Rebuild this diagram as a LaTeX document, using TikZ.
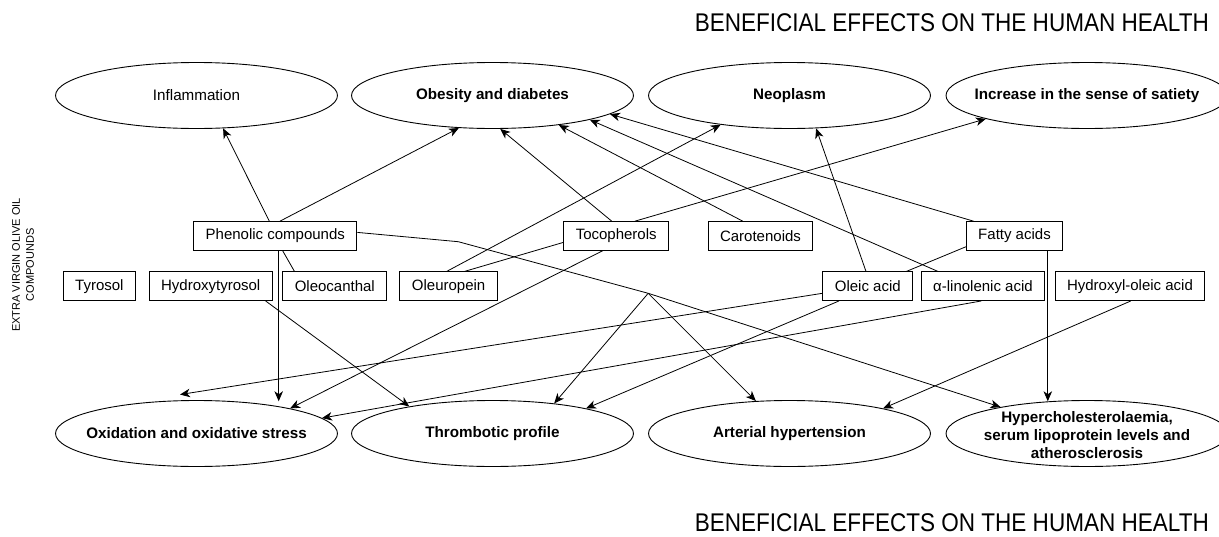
\documentclass[tikz,border=0pt]{standalone}
\usepackage{fontspec}
\setmainfont{Liberation Sans}
\newfontfamily\headfont{Liberation Sans}[FakeStretch=0.88]
\usepackage{tikz}
\usetikzlibrary{positioning}
\usetikzlibrary{arrows.meta}
\usetikzlibrary{shapes}
\usetikzlibrary{calc}

\tikzset{
  effect/.style={ellipse, draw, line width=0.9pt, minimum width=282pt, minimum height=66pt, inner sep=0pt},
  efftext/.style={font=\fontsize{15.2}{18}\selectfont\bfseries, align=center},
  compound/.style={rectangle, draw, line width=0.9pt, minimum height=28.6pt, inner xsep=12pt, inner ysep=0pt, font=\fontsize{15}{18}\selectfont},
  link/.style={line width=0.8pt},
  effarrow/.style={->, line width=0.8pt},
  headline/.style={anchor=base east, inner sep=0pt, font=\headfont\fontsize{25.6}{30}\selectfont}
}

\begin{document}
\begin{tikzpicture}[x=1pt, y=-1pt, >={Stealth[length=10pt,width=8.5pt,inset=3pt]}]
\useasboundingbox (0,0) rectangle (1219,536);

\node[headline] (toptitle) at (1209,31.7) {BENEFICIAL EFFECTS ON THE HUMAN HEALTH};
\node[headline] (bottitle) at (1209,531) {BENEFICIAL EFFECTS ON THE HUMAN HEALTH};
\node[rotate=90, align=center, font=\fontsize{11}{14}\selectfont] (side) at (23,265) {EXTRA VIRGIN OLIVE OIL\\COMPOUNDS};

\node[effect, label={[efftext, font=\fontsize{15.2}{18}\selectfont]center:Inflammation}] (infl) at (196.5,95.5) {};
\node[effect, label={[efftext]center:Obesity and diabetes}] (obes) at (492.5,95.5) {};
\node[effect, label={[efftext]center:Neoplasm}] (neop) at (789.5,95.5) {};
\node[effect, label={[efftext]center:Increase in the sense of satiety}] (sati) at (1087,95.5) {};

\node[effect, label={[efftext]center:Oxidation and oxidative stress}] (oxid) at (196.5,433.5) {};
\node[effect, label={[efftext]center:Thrombotic profile}] (thro) at (492.5,433.5) {};
\node[effect, label={[efftext]center:Arterial hypertension}] (arte) at (789.5,433.5) {};
\node[effect, label={[efftext, yshift=-2pt]center:Hypercholesterolaemia,\\serum lipoprotein levels and\\atherosclerosis}] (hyper) at (1087,433.5) {};

\node[compound] (phen) at (275.3,235.9) {Phenolic compounds};
\node[compound] (toco) at (616.2,235.9) {Tocopherols};
\node[compound] (caro) at (760.5,235.9) {Carotenoids};
\node[compound] (fatty) at (1014.5,235.9) {Fatty acids};

\node[compound] (tyro) at (99.4,286.2) {Tyrosol};
\node[compound] (hydro) at (210.7,286.2) {Hydroxytyrosol};
\node[compound] (oleoc) at (334.8,286.2) {Oleocanthal};
\node[compound] (oleur) at (448.6,286.2) {Oleuropein};
\node[compound] (oleic) at (867.8,286.2) {Oleic acid};
\node[compound] (linol) at (983,286.2) {α-linolenic acid};
\node[compound] (holeic) at (1130,286.2) {Hydroxyl-oleic acid};

\coordinate (bend) at (458.3,241.7);
\coordinate (split) at (648.2,293.3);

\draw[effarrow] ($(phen.north)+(-6,0)$) -- (infl.-51);
\draw[effarrow] ($(phen.north)+(4.7,0)$) -- (obes.-136);
\draw[effarrow] ($(toco.north)+(-4.5,0)$) -- (obes.-77);
\draw[effarrow] ($(caro.north)+(-17.8,0)$) -- (obes.-24);
\draw[effarrow] ($(linol.north)+(-45,0)$) -- (obes.-14.3);
\draw[effarrow] ($(fatty.north)+(-41,0)$) -- (obes.-9.4);
\draw[effarrow] ($(oleur.north)+(-2,0)$) -- (neop.-157);
\draw[effarrow] ($(oleic.north)+(-1.8,0)$) -- (neop.-51);
\draw[effarrow] ($(toco.north)+(18.8,0)$) -- (sati.-167);

\draw[link] ($(phen.south)+(7.3,0)$) -- ($(oleoc.north)+(-40.3,0)$);
\draw[link] ($(oleur.north)+(15.8,0)$) -- ($(toco.west)+(0,6.5)$);
\draw[link] ($(fatty.west)+(0,10.9)$) -- ($(oleic.north)+(38.5,0)$);

\draw[effarrow] ($(phen.south)+(3.4,0)$) -- ($(phen.south |- oxid.north)+(3.4,1.2)$);
\draw[effarrow] ($(toco.south)+(-13.4,0)$) -- (oxid.15);
\draw[effarrow] ($(oleic.west)+(0,7.1)$) -- ($(oxid.north)+(-16.5,-5.5)$);
\draw[effarrow] ($(linol.south)+(-1.6,0)$) -- (oxid.7.3);
\draw[effarrow] ($(hydro.south)+(54.9,0)$) -- (thro.162);
\draw[effarrow] ($(oleic.south)+(-28.8,0)$) -- (thro.15);
\draw[effarrow] ($(phen.east)+(0,-3.5)$) -- (bend) -- (split) -- (hyper.163);
\draw[effarrow] (split) -- (thro.26);
\draw[effarrow] (split) -- (arte.136);
\draw[effarrow] ($(holeic.south)+(0.8,0)$) -- (arte.15.3);
\draw[effarrow] ($(fatty.south)+(33.3,0)$) -- ($(fatty.south |- hyper.north)+(33.3,1.2)$);
\end{tikzpicture}
\end{document}
